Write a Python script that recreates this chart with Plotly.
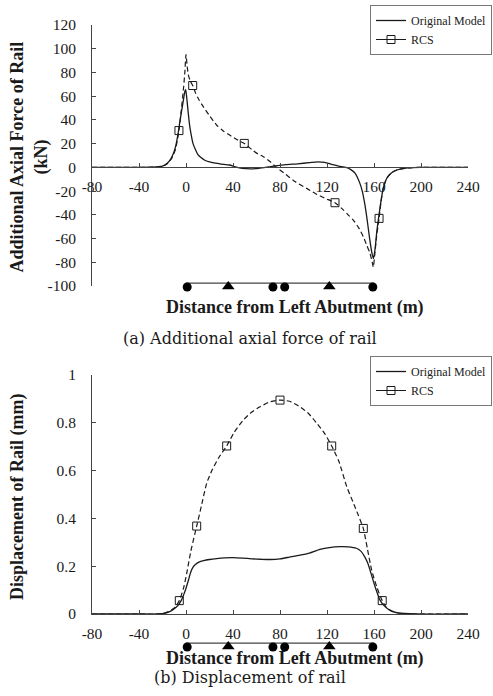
import plotly.graph_objects as go

# ---------------- data ----------------
# (a) additional axial force of rail (kN)
force_orig_x = [-80, -40, -25, -20, -16, -13, -11, -9, -7, -5, -3, -2, -1, -0.3, 0.5, 1, 2, 3, 4.5, 6, 8, 10, 13, 16, 20, 25, 30, 37,
                42, 48, 55, 62, 70, 78, 85, 95, 105, 112, 118, 124, 130, 136, 140, 144, 148, 150, 152, 154, 156, 158, 159.5,
                161, 162.3, 164, 166, 168, 171, 175, 180, 186, 193, 200, 240]
force_orig_y = [0, 0, 0.3, 1, 3.4, 7, 11, 17, 27, 40, 52, 58, 64, 65.5, 60, 55, 45, 36, 27, 20, 15, 11, 8, 6, 4.7, 3.5, 2.8, 2,
                0.5, -0.8, -1.2, -0.8, 0.3, 1.5, 2.3, 3, 4, 4.7, 4.2, 2.5, 1, 0, -1.7, -5, -13.5, -20, -30, -43, -58, -71, -77,
                -68, -55, -42, -28, -17, -9, -4.5, -2, -0.8, -0.2, 0, 0]
force_rcs_x = [-80, -40, -25, -20, -16, -12, -9, -6, -4, -2, -1, 0, 1, 2, 3.5, 5.7, 8, 11, 14.8, 20, 26, 32, 37.4, 44, 49.6,
               56, 60, 65.8, 72, 77, 85, 92, 102.7, 110, 118, 126.8, 133, 138, 142.4, 147, 150.9, 154, 156.6, 158.5, 159.4,
               160.5, 162, 164.3, 166, 168, 171, 175, 180, 186, 193, 200, 240]
force_rcs_y = [0, 0, 0.3, 1, 3, 8, 15, 31, 48, 68, 80, 95, 85, 78, 73, 69, 63, 57, 51, 43.5, 35.7, 30.5, 27, 23, 20.2,
               15, 12, 9, 4.5, 0, -6, -11.5, -17.7, -22, -26, -29.8, -35, -40, -44.4, -51, -58.5, -66, -72.5, -80, -84,
               -75, -60, -43, -29, -17, -9, -4.5, -2, -0.8, -0.2, 0, 0]
force_rcs_mark_x = [-6, 5.7, 49.6, 126.8, 164.3]
force_rcs_mark_y = [31, 69, 20.2, -29.8, -43]

# (b) displacement of rail (mm)
disp_orig_x = [-80, -40, -25, -20, -16, -13, -10, -7, -4, -2, 0, 2, 4, 6, 8, 11, 15, 20, 26, 33, 40, 48, 56, 64, 72, 80,
               88, 97, 105, 114, 122, 131, 138, 145, 149, 152, 154.5, 156.6, 158.8, 161, 163, 165, 168, 171, 175, 180,
               186, 195, 240]
disp_orig_y = [0, 0, 0, 0.002, 0.006, 0.012, 0.022, 0.035, 0.057, 0.08, 0.108, 0.14, 0.175, 0.196, 0.207, 0.217, 0.223,
               0.228, 0.232, 0.235, 0.236, 0.234, 0.231, 0.229, 0.228, 0.231, 0.238, 0.246, 0.255, 0.27, 0.278, 0.282,
               0.281, 0.275, 0.262, 0.24, 0.215, 0.184, 0.148, 0.113, 0.085, 0.059, 0.038, 0.024, 0.012, 0.005, 0.002,
               0, 0]
disp_rcs_x = [-80, -40, -25, -20, -15, -10, -5.7, -2, 0.6, 4, 9.1, 13, 17.6, 22, 28, 34.6, 41, 48.8, 56, 63, 71, 80, 88,
              96, 104, 111, 118, 124, 130, 136.8, 142, 146.5, 150.9, 154.5, 158, 162.3, 167, 171, 176, 182, 190, 240]
disp_rcs_y = [0, 0, 0, 0.002, 0.01, 0.025, 0.056, 0.11, 0.17, 0.26, 0.368, 0.45, 0.547, 0.6, 0.655, 0.703, 0.76, 0.812,
              0.845, 0.867, 0.887, 0.895, 0.89, 0.87, 0.84, 0.8, 0.755, 0.703, 0.64, 0.533, 0.47, 0.415, 0.358, 0.27,
              0.184, 0.114, 0.056, 0.025, 0.01, 0.003, 0, 0]
disp_rcs_mark_x = [-5.7, 9.1, 34.6, 80, 124, 150.9, 167]
disp_rcs_mark_y = [0.056, 0.368, 0.703, 0.895, 0.703, 0.358, 0.056]

# bridge sketch below each chart (positions along the bridge, m)
beam_x = [0, 160]
fixed_support_x = [1, 74, 84, 159]   # filled circles
roller_support_x = [36, 122]         # filled triangles

x_ticks = [-80, -40, 0, 40, 80, 120, 160, 200, 240]
force_ticks = [-100, -80, -60, -40, -20, 0, 20, 40, 60, 80, 100, 120]
disp_ticks = [0, 0.2, 0.4, 0.6, 0.8, 1]
disp_tick_text = ["0", "0.2", "0.4", "0.6", "0.8", "1"]

# ---------------- layout helpers ----------------
W, H = 493, 696
def py(p):
    return 1 - p / H

x_dom = [92 / W, 468 / W]
top_dom = [py(286), py(25)]
bot_dom = [py(614), py(375)]
sup1_dom = [py(296), py(276)]
sup2_dom = [py(656), py(636)]
x0_pos = top_dom[0] + (0 - (-100)) / 220 * (top_dom[1] - top_dom[0])

INK = "#1a1a1a"
AX = "#444444"
SERIF = "Liberation Serif, Times New Roman, serif"
tickfont = dict(family=SERIF, size=15.5, color=INK)

fig = go.Figure()

def add_panel(xo, yo, xr, yr, mx, my, xa, ya, leg):
    fig.add_trace(go.Scatter(x=xo, y=yo, mode="lines", name="Original Model",
                             line=dict(color=INK, width=1.3, shape="spline", smoothing=0.6),
                             xaxis=xa, yaxis=ya, legend=leg, hoverinfo="skip"))
    fig.add_trace(go.Scatter(x=xr, y=yr, mode="lines", showlegend=False,
                             line=dict(color=INK, width=1.2, dash="5px,3px", shape="spline", smoothing=0.6),
                             xaxis=xa, yaxis=ya, legend=leg, hoverinfo="skip"))
    fig.add_trace(go.Scatter(x=mx, y=my, mode="markers", showlegend=False,
                             marker=dict(symbol="square-open", size=8, color=INK, line=dict(width=1)),
                             xaxis=xa, yaxis=ya, legend=leg, hoverinfo="skip"))
    fig.add_trace(go.Scatter(x=[None], y=[None], mode="lines+markers", name="RCS",
                             line=dict(color=INK, width=1),
                             marker=dict(symbol="square-open", size=8, color=INK, line=dict(width=1)),
                             xaxis=xa, yaxis=ya, legend=leg))

def add_bridge(xa, ya):
    fig.add_trace(go.Scatter(x=beam_x, y=[0.28] * len(beam_x), mode="lines", showlegend=False,
                             line=dict(color=AX, width=1.2), xaxis=xa, yaxis=ya, hoverinfo="skip"))
    fig.add_trace(go.Scatter(x=fixed_support_x, y=[-0.1] * len(fixed_support_x), mode="markers",
                             showlegend=False, marker=dict(symbol="circle", size=9, color="black"),
                             xaxis=xa, yaxis=ya, hoverinfo="skip"))
    fig.add_trace(go.Scatter(x=roller_support_x, y=[-0.05] * len(roller_support_x), mode="markers",
                             showlegend=False, marker=dict(symbol="triangle-up", size=11, color="black"),
                             xaxis=xa, yaxis=ya, hoverinfo="skip"))

add_panel(force_orig_x, force_orig_y, force_rcs_x, force_rcs_y, force_rcs_mark_x, force_rcs_mark_y, "x", "y", "legend")
add_panel(disp_orig_x, disp_orig_y, disp_rcs_x, disp_rcs_y, disp_rcs_mark_x, disp_rcs_mark_y, "x2", "y2", "legend2")
add_bridge("x3", "y3")
add_bridge("x4", "y4")

common_x = dict(range=[-80, 240], tickvals=x_ticks, ticktext=[str(v) for v in x_ticks], ticks="inside", ticklen=4,
                tickcolor=AX, showline=True, linecolor=AX, linewidth=1, showgrid=False, zeroline=False,
                tickfont=tickfont, ticklabelstandoff=5, domain=x_dom, automargin=False)
common_y = dict(ticks="inside", ticklen=4, tickcolor=AX, showline=True, linecolor=AX, linewidth=1,
                showgrid=False, zeroline=False, tickfont=tickfont, ticklabelstandoff=12, automargin=False)
hidden = dict(visible=False, showgrid=False, zeroline=False, automargin=False)

fig.update_layout(
    width=W, height=H, margin=dict(l=0, r=0, t=0, b=0, pad=0, autoexpand=False),
    paper_bgcolor="white", plot_bgcolor="white",
    xaxis=dict(**common_x, anchor="free", position=x0_pos),
    yaxis=dict(**common_y, domain=top_dom, range=[-100, 120], tickvals=force_ticks,
               ticktext=[str(v) for v in force_ticks], anchor="x"),
    xaxis2=dict(**common_x, anchor="y2"),
    yaxis2=dict(**common_y, domain=bot_dom, range=[0, 1], tickvals=disp_ticks, ticktext=disp_tick_text,
                anchor="x2"),
    xaxis3=dict(**hidden, range=[-80, 240], domain=x_dom, anchor="y3"),
    yaxis3=dict(**hidden, range=[-1, 1], domain=sup1_dom, anchor="x3"),
    xaxis4=dict(**hidden, range=[-80, 240], domain=x_dom, anchor="y4"),
    yaxis4=dict(**hidden, range=[-1, 1], domain=sup2_dom, anchor="x4"),
    legend=dict(x=0.998, xanchor="right", y=py(5), yanchor="top", bgcolor="white", bordercolor="#777",
                borderwidth=1, font=dict(family=SERIF, size=12, color=INK), itemwidth=30, tracegroupgap=0),
    legend2=dict(x=0.998, xanchor="right", y=py(356), yanchor="top", bgcolor="white", bordercolor="#777",
                 borderwidth=1, font=dict(family=SERIF, size=12, color=INK), itemwidth=30, tracegroupgap=0),
    showlegend=True,
)

bold = dict(family="Liberation Serif, Times New Roman, serif", size=18, color=INK)
cap = dict(family="DejaVu Serif, serif", size=16, color=INK)
ann = [
    dict(text="<b>Distance from Left Abutment (m)</b>", x=295 / W, y=py(307), font=bold),
    dict(text="<b>Distance from Left Abutment (m)</b>", x=295 / W, y=py(658), font=bold),
    dict(text="<b>Additional Axial Force of Rail</b>", x=17 / W, y=py(157.5), font=bold, textangle=-90),
    dict(text="<b>(kN)</b>", x=41 / W, y=py(157.5), font=bold, textangle=-90),
    dict(text="<b>Displacement of Rail (mm)</b>", x=17 / W, y=py(497), font=bold, textangle=-90),
    dict(text="(a) Additional axial force of rail", x=250 / W, y=py(338), font=cap),
    dict(text="(b) Displacement of rail", x=250 / W, y=py(677), font=cap),
]
for a in ann:
    fig.add_annotation(xref="paper", yref="paper", showarrow=False, xanchor="center", yanchor="middle", **a)

fig.write_html("out.html")
